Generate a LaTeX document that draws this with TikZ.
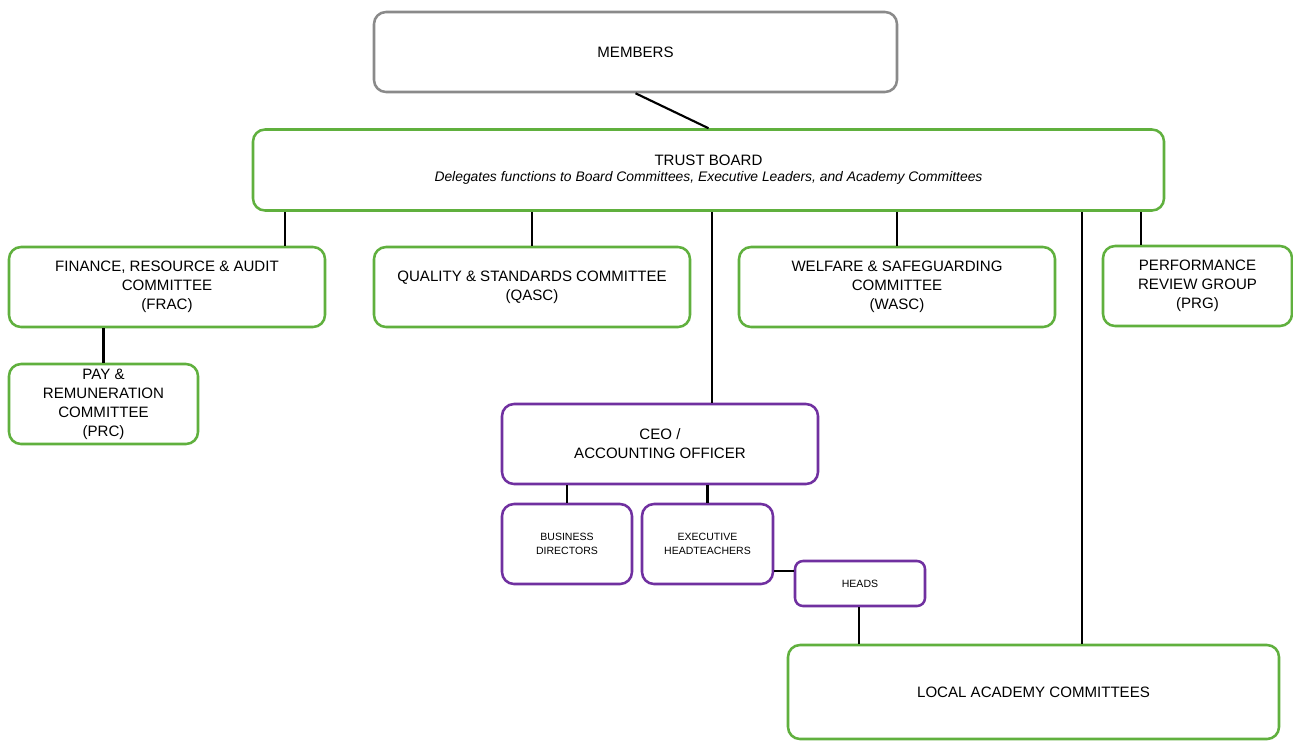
\documentclass[tikz,border=0pt]{standalone}
\usepackage{fontspec}
\setmainfont{Liberation Sans}
\definecolor{gbox}{RGB}{96,176,62}
\definecolor{pbox}{RGB}{112,48,160}
\definecolor{mbox}{RGB}{138,138,138}
\begin{document}
\begin{tikzpicture}[x=0.75pt,y=-0.75pt,
  base/.style={draw,rounded corners=9pt,line width=1.9pt,fill=white,align=center,inner sep=0pt,
     font=\fontsize{11.3}{14.25}\selectfont},
  gbx/.style={base,draw=gbox},
  pbx/.style={base,draw=pbox},
  mbx/.style={base,draw=mbox},
  small/.style={font=\fontsize{7.9}{10.5}\selectfont},
  conn/.style={line width=1.6pt,black}]
\useasboundingbox (0,0) rectangle (1293,740);
\node[mbx,minimum width=523*0.75pt,minimum height=80*0.75pt] (mem) at (635.5,52) {MEMBERS};
\node[gbx,minimum width=911*0.75pt,minimum height=81*0.75pt] (tb) at (708.5,170)
  {TRUST BOARD\\[-2pt]{\fontsize{10.4}{12}\selectfont\itshape Delegates functions to Board Committees, Executive Leaders, and Academy Committees}};
\node[gbx,minimum width=316*0.75pt,minimum height=80*0.75pt] (frac) at (167,287) {\raisebox{0pt}[\height][\depth]{FINANCE, RESOURCE \& AUDIT}\\COMMITTEE\\(FRAC)};
\node[gbx,minimum width=316*0.75pt,minimum height=80*0.75pt] (qasc) at (532,287) {QUALITY \& STANDARDS COMMITTEE\\(QASC)};
\node[gbx,minimum width=316*0.75pt,minimum height=80*0.75pt] (wasc) at (897,287) {WELFARE \& SAFEGUARDING\\COMMITTEE\\(WASC)};
\node[gbx,minimum width=189*0.75pt,minimum height=80*0.75pt] (prg) at (1197.5,286) {PERFORMANCE\\REVIEW GROUP\\(PRG)};
\node[gbx,minimum width=189*0.75pt,minimum height=80*0.75pt] (prc) at (103.5,404) {PAY \&\\REMUNERATION\\COMMITTEE\\(PRC)};
\node[pbx,minimum width=316*0.75pt,minimum height=80*0.75pt] (ceo) at (660,444) {CEO /\\ACCOUNTING OFFICER};
\node[pbx,small,minimum width=130*0.75pt,minimum height=80*0.75pt] (bd) at (567,544) {BUSINESS\\DIRECTORS};
\node[pbx,small,minimum width=131*0.75pt,minimum height=80*0.75pt] (eh) at (707.5,544) {EXECUTIVE\\HEADTEACHERS};
\node[pbx,small,minimum width=130*0.75pt,minimum height=45*0.75pt,rounded corners=6pt] (heads) at (860,583.5) {HEADS};
\node[gbx,minimum width=491*0.75pt,minimum height=94*0.75pt] (lac) at (1033.5,692) {LOCAL ACADEMY COMMITTEES};
\draw[conn] (mem.south) -- (tb.north);
\draw[conn] (tb.south -| 285,0) -- (frac.north -| 285,0);
\draw[conn] (tb.south -| 532,0) -- (qasc.north);
\draw[conn] (tb.south -| 712,0) -- (ceo.north -| 712,0);
\draw[conn] (tb.south -| 897,0) -- (wasc.north);
\draw[conn] (tb.south -| 1082,0) -- (lac.north -| 1082,0);
\draw[conn] (tb.south -| 1141,0) -- (prg.north -| 1141,0);
\draw[conn] (frac.south -| prc.north) -- (prc.north);
\draw[conn] (ceo.south -| bd.north) -- (bd.north);
\draw[conn] (ceo.south -| eh.north) -- (eh.north);
\draw[conn] (eh.east |- 0,571) -- (heads.west |- 0,571);
\draw[conn] (heads.south -| 859,0) -- (lac.north -| 859,0);
\end{tikzpicture}
\end{document}
